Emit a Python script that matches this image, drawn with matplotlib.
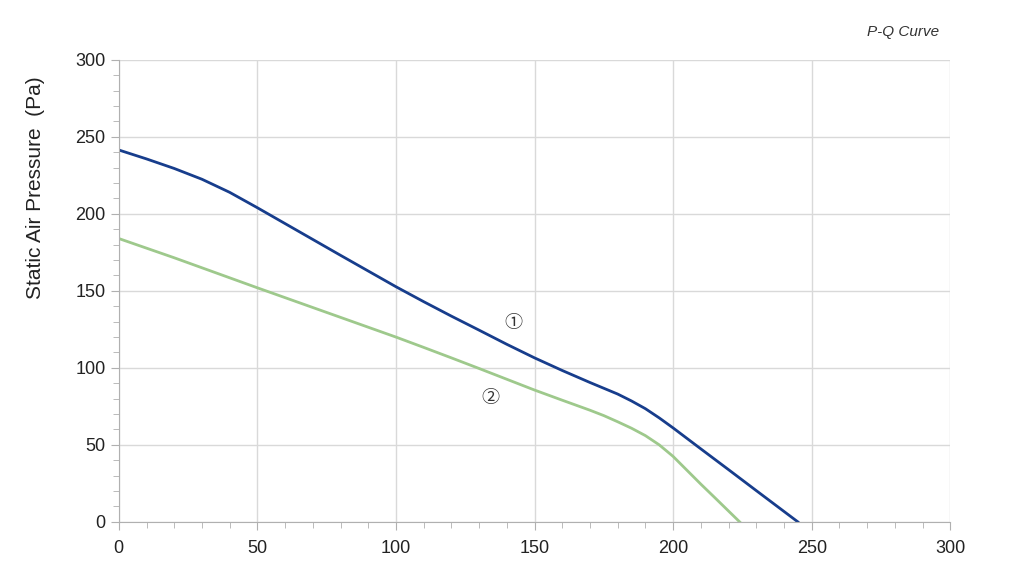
import numpy as np
from matplotlib import pyplot as plt
from matplotlib.ticker import MultipleLocator

plt.rcParams['font.family'] = ['Liberation Sans', 'DejaVu Sans']

# curve 1 (blue)
q1 = [0, 10, 20, 30, 40, 50, 60, 70, 80, 90, 100, 110, 120, 130, 140, 150, 160, 170, 180, 185, 190, 195, 200, 210, 220, 230, 245]
p1 = [241.5, 235.7, 229.5, 222.5, 214, 204, 193.7, 183.4, 173.1, 162.9, 152.7, 143, 133.6, 124.5, 115.3, 106.5, 98.3, 90.5, 83, 78.5, 73.5, 67.5, 61, 47.4, 33.9, 20.3, 0]
# curve 2 (green)
q2 = [0, 20, 40, 50, 60, 70, 80, 90, 100, 110, 120, 130, 140, 150, 160, 170, 175, 180, 185, 190, 195, 200, 205, 210, 215, 224]
p2 = [184, 171.5, 158.5, 152, 145.6, 139.2, 132.8, 126.4, 120, 113.3, 106.5, 99.6, 92.6, 85.6, 79, 72.5, 69, 65, 60.8, 56, 50, 42.5, 33.5, 24.5, 15.8, 0]

fig = plt.figure(figsize=(10.24, 5.76), dpi=100)
ax = fig.add_axes([0.116, 0.094, 0.812, 0.802])

ax.plot(q1, p1, color='#173d8c', linewidth=2.0)
ax.plot(q2, p2, color='#9ec98c', linewidth=2.0)

ax.text(142.5, 129, '①', fontsize=13, ha='center', va='center', family=['Noto Sans CJK SC', 'DejaVu Sans'], color='#333333')
ax.text(134, 80.5, '②', fontsize=13, ha='center', va='center', family=['Noto Sans CJK SC', 'DejaVu Sans'], color='#333333')

ax.set_xlim(0, 300)
ax.set_ylim(0, 300)
ax.xaxis.set_major_locator(MultipleLocator(50))
ax.yaxis.set_major_locator(MultipleLocator(50))
ax.xaxis.set_minor_locator(MultipleLocator(10))
ax.yaxis.set_minor_locator(MultipleLocator(10))
ax.grid(True, which='major', color='#d9d9d9', linewidth=1)
ax.set_axisbelow(True)
for s in ['top', 'right']:
    ax.spines[s].set_visible(False)
for s in ['left', 'bottom']:
    ax.spines[s].set_color('#b0b0b0')
ax.tick_params(which='both', direction='out', colors='#b0b0b0', labelcolor='#222222', labelsize=13)
ax.tick_params(which='major', length=6)
ax.tick_params(which='minor', length=4)
ax.tick_params(axis='x', which='major', pad=7)

ax.set_ylabel('Static Air Pressure  (Pa)', fontsize=15, color='#222222')
ax.yaxis.set_label_coords(-0.089, 0.724)
fig.text(0.917, 0.945, 'P-Q Curve', fontsize=11, style='italic', ha='right', va='center', color='#333333')

plt.savefig('out.png', dpi=100)
